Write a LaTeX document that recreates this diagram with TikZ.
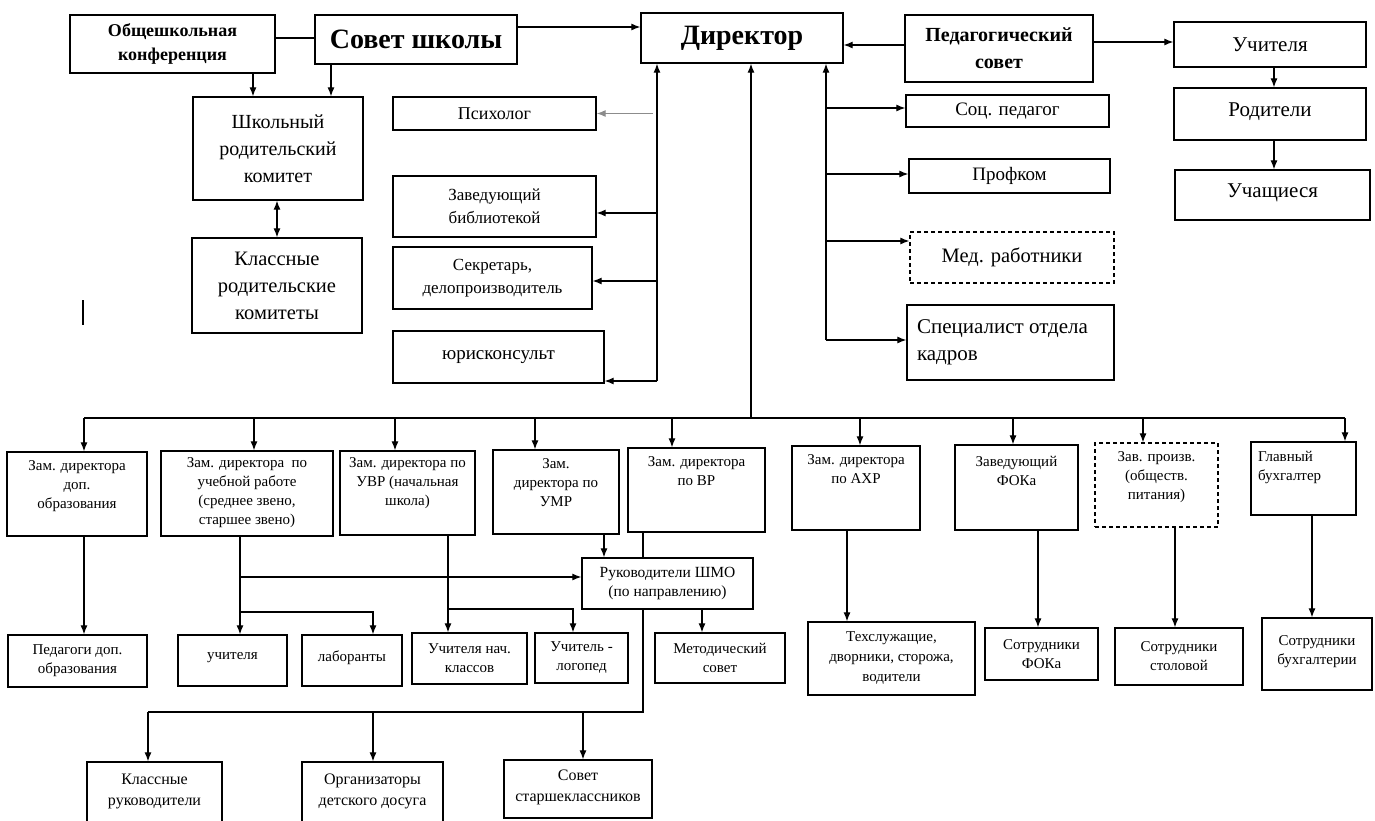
\documentclass[tikz,border=0pt]{standalone}
\usepackage{fontspec}
\setmainfont{Liberation Serif}
\usetikzlibrary{arrows.meta}
\newcommand\fs[2]{\fontsize{#1}{#2}\selectfont}
\newcommand\bx[8]{%
 \node[box,#1,minimum width={(#5-#3)*1pt},minimum height={(#6-#4)*1pt}] (#2) at ({(#3+#5)/2},{(#4+#6)/2})
 {\parbox[c][\dimexpr#6pt-#4pt-8pt\relax][#7]{\dimexpr#5pt-#3pt-8pt\relax}{#8}};}
\tikzset{
 box/.style={draw, line width=1.3pt, fill=white, inner sep=0pt},
 dbox/.style={dash pattern=on 4pt off 3pt},
 con/.style={line width=1.2pt},
 arr/.style={con,-{Latex[length=9pt,width=7pt]}},
 darr/.style={con,{Latex[length=9pt,width=7pt]}-{Latex[length=9pt,width=7pt]}}
}
\begin{document}
\begin{tikzpicture}[x=1pt,y=-1pt]
\useasboundingbox[fill=white] (0,0) rectangle (1375,820);
% top row
\bx{}{konf}{70}{15}{275}{73}{c}{\centering\bfseries\fs{18}{24}Общешкольная\\конференция}
\bx{}{sovet}{315}{15}{517}{64}{c}{\centering\bfseries\fs{28}{32}Совет школы}
\bx{}{dir}{641}{13}{843}{63}{c}{\centering\bfseries\fs{28}{32}\raisebox{-2pt}{Директор}}
\bx{}{ped}{905}{15}{1093}{82}{c}{\centering\bfseries\fs{20}{27}Педагогический\\совет}
\bx{}{uch}{1174}{22}{1366}{67}{c}{\centering\fs{21}{24}Учителя}
\bx{}{rod}{1174}{88}{1366}{140}{c}{\centering\fs{21}{24}Родители\\[4pt]}
\bx{}{uchsya}{1175}{170}{1370}{220}{c}{\centering\fs{21}{24}Учащиеся\\[4pt]}
% left column
\bx{}{shrk}{193}{97}{363}{200}{c}{\centering\fs{20}{27}Школьный\\родительский\\комитет}
\bx{}{krk}{192}{238}{362}{333}{c}{\centering\fs{20.5}{27}Классные\\родительские\\комитеты}
% director's left staff
\bx{}{psy}{393}{97}{596}{130}{c}{\centering\fs{18}{20}Психолог}
\bx{}{bib}{393}{176}{596}{237}{c}{\centering\fs{17}{23}Заведующий\\библиотекой}
\bx{}{sek}{393}{247}{592}{309}{c}{\centering\fs{17}{23}Секретарь,\\делопроизводитель}
\bx{}{yur}{393}{331}{604}{383}{c}{\centering\fs{19}{22}юрисконсульт}
% director's right staff
\bx{}{soc}{906}{95}{1109}{127}{c}{\centering\fs{19}{22}Соц. педагог}
\bx{}{prof}{909}{159}{1110}{193}{c}{\centering\fs{19}{22}Профком}
\bx{dbox}{med}{910}{232}{1114}{283}{c}{\centering\fs{20.5}{24}Мед. работники}
\bx{}{spec}{907}{305}{1114}{380}{c}{\raggedright\fs{21}{27}\hspace*{6pt}Специалист отдела\\\hspace*{6pt}кадров}
% deputies
\bx{}{z1}{7}{452}{147}{536}{t}{\centering\fs{15}{19}\vspace*{5pt}Зам. директора\\доп.\\образования}
\bx{}{z2}{161}{451}{333}{536}{t}{\centering\fs{15}{19}\vspace*{3pt}Зам. директора~ по\\учебной работе\\(среднее звено,\\старшее звено)}
\bx{}{z3}{340}{451}{475}{535}{t}{\centering\fs{15}{19}\vspace*{3pt}Зам. директора по\\УВР (начальная\\школа)}
\bx{}{z4}{493}{450}{619}{534}{t}{\centering\fs{15}{19}\vspace*{5pt}Зам.\\директора по\\УМР}
\bx{}{z5}{628}{448}{765}{532}{t}{\centering\fs{15}{19}\vspace*{5pt}Зам. директора\\по ВР}
\bx{}{z6}{792}{446}{920}{530}{t}{\centering\fs{15}{19}\vspace*{5pt}Зам. директора\\по АХР}
\bx{}{z7}{955}{445}{1078}{530}{t}{\centering\fs{15}{19}\vspace*{7pt}Заведующий\\ФОКа}
\bx{dbox}{z8}{1095}{443}{1218}{527}{t}{\centering\fs{15}{19}\vspace*{5pt}Зав. произв.\\(обществ.\\питания)}
\bx{}{z9}{1251}{442}{1356}{515}{t}{\raggedright\fs{15}{19}\vspace*{5pt}\hspace*{3pt}Главный\\\hspace*{3pt}бухгалтер}
\bx{}{shmo}{582}{558}{753}{609}{c}{\centering\fs{15.5}{19}Руководители ШМО\\(по направлению)}
% bottom row
\bx{}{b1}{8}{635}{147}{687}{c}{\centering\fs{15}{19}Педагоги доп.\\образования}
\bx{}{b2}{178}{635}{287}{686}{c}{\centering\fs{15}{19}учителя\\[6pt]}
\bx{}{b3}{302}{635}{402}{686}{c}{\centering\fs{15}{19}лаборанты\\[6pt]}
\bx{}{b4}{412}{633}{527}{684}{c}{\centering\fs{15}{19}Учителя нач.\\классов}
\bx{}{b5}{535}{633}{628}{683}{c}{\centering\fs{15}{19}Учитель -\\логопед}
\bx{}{b6}{655}{633}{785}{683}{c}{\centering\fs{15}{19}Методический\\совет}
\bx{}{b7}{808}{622}{975}{695}{c}{\centering\fs{15}{20}Техслужащие,\\дворники, сторожа,\\водители}
\bx{}{b8}{985}{628}{1098}{680}{c}{\centering\fs{15}{19}Сотрудники\\ФОКа}
\bx{}{b9}{1115}{628}{1243}{685}{c}{\centering\fs{15}{19}Сотрудники\\столовой}
\bx{}{b10}{1262}{618}{1372}{690}{c}{\centering\fs{15}{19}Сотрудники\\бухгалтерии\\[4pt]}
\bx{}{c1}{87}{762}{222}{830}{t}{\centering\fs{16}{21}\vspace*{8pt}Классные\\руководители}
\bx{}{c2}{302}{762}{443}{830}{t}{\centering\fs{16}{21}\vspace*{8pt}Организаторы\\детского досуга}
\bx{}{c3}{504}{760}{652}{818}{t}{\centering\fs{16}{21}\vspace*{6pt}Совет\\старшеклассников}
% connectors: top
\draw[con] (konf.east |- 0,38) -- (sovet.west |- 0,38);
\draw[arr] (sovet.east |- 0,27) -- (dir.west |- 0,27);
\draw[arr] (ped.west |- 0,45) -- (dir.east |- 0,45);
\draw[arr] (ped.east |- 0,42) -- (uch.west |- 0,42);
\draw[arr] (uch.south -| 1274,0) -- (rod.north -| 1274,0);
\draw[arr] (rod.south -| 1274,0) -- (uchsya.north -| 1274,0);
\draw[arr] (konf.south -| 253,0) -- (shrk.north -| 253,0);
\draw[arr] (sovet.south -| 331,0) -- (shrk.north -| 331,0);
\draw[darr] (shrk.south -| 277,0) -- (krk.north -| 277,0);
% left trunk
\coordinate (lt) at (657,381);
\draw[arr] (lt) -- (dir.south -| lt);
\draw[arr,black!45] (653,113.5) -- (psy.east);
\draw[arr] (lt |- 0,213) -- (bib.east |- 0,213);
\draw[arr] (lt |- 0,281) -- (sek.east |- 0,281);
\draw[arr] (lt) -- (yur.east |- lt);
% right trunk
\coordinate (rt) at (826,340);
\draw[arr] (rt) -- (dir.south -| rt);
\draw[arr] (rt |- 0,108) -- (soc.west |- 0,108);
\draw[arr] (rt |- 0,174) -- (prof.west |- 0,174);
\draw[arr] (rt |- 0,241) -- (med.west |- 0,241);
\draw[arr] (rt) -- (spec.west |- rt);
% centre trunk and bus
\coordinate (bus) at (751,418);
\draw[arr] (bus) -- (dir.south -| bus);
\draw[con] (bus -| 84,0) -- (bus -| 1345,0);
\draw[arr] (bus -| 84,0) -- (z1.north -| 84,0);
\draw[arr] (bus -| 254,0) -- (z2.north -| 254,0);
\draw[arr] (bus -| 395,0) -- (z3.north -| 395,0);
\draw[arr] (bus -| 535,0) -- (z4.north -| 535,0);
\draw[arr] (bus -| 672,0) -- (z5.north -| 672,0);
\draw[arr] (bus -| 860,0) -- (z6.north -| 860,0);
\draw[arr] (bus -| 1013,0) -- (z7.north -| 1013,0);
\draw[arr] (bus -| 1143,0) -- (z8.north -| 1143,0);
\draw[arr] (bus -| 1345,0) -- (z9.north -| 1345,0);
% deputies to staff
\draw[arr] (z1.south -| 84,0) -- (b1.north -| 84,0);
\draw[arr] (z2.south -| 240,0) -- (b2.north -| 240,0);
\draw[arr] (240,577) -- (shmo.west |- 0,577);
\draw[arr] (240,612) -- (373,612) -- (b3.north -| 373,0);
\draw[arr] (z3.south -| 448,0) -- (b4.north -| 448,0);
\draw[arr] (448,609) -- (573,609) -- (b5.north -| 573,0);
\draw[arr] (z4.south -| 604,0) -- (shmo.north -| 604,0);
\draw[con] (z5.south -| 643,0) -- (shmo.north -| 643,0);
\coordinate (vr) at (643,712);
\draw[con] (shmo.south -| 643,0) -- (vr) -- (148,712);
\draw[arr] (148,712) -- (c1.north -| 148,0);
\draw[arr] (373,712) -- (c2.north -| 373,0);
\draw[arr] (583,712) -- (c3.north -| 583,0);
\draw[arr] (shmo.south -| 702,0) -- (b6.north -| 702,0);
\draw[arr] (z6.south -| 847,0) -- (b7.north -| 847,0);
\draw[arr] (z7.south -| 1038,0) -- (b8.north -| 1038,0);
\draw[arr] (z8.south -| 1175,0) -- (b9.north -| 1175,0);
\draw[arr] (z9.south -| 1312,0) -- (b10.north -| 1312,0);
% stray mark
\draw[line width=1.5pt] (83,300) -- (83,325);
\end{tikzpicture}
\end{document}
